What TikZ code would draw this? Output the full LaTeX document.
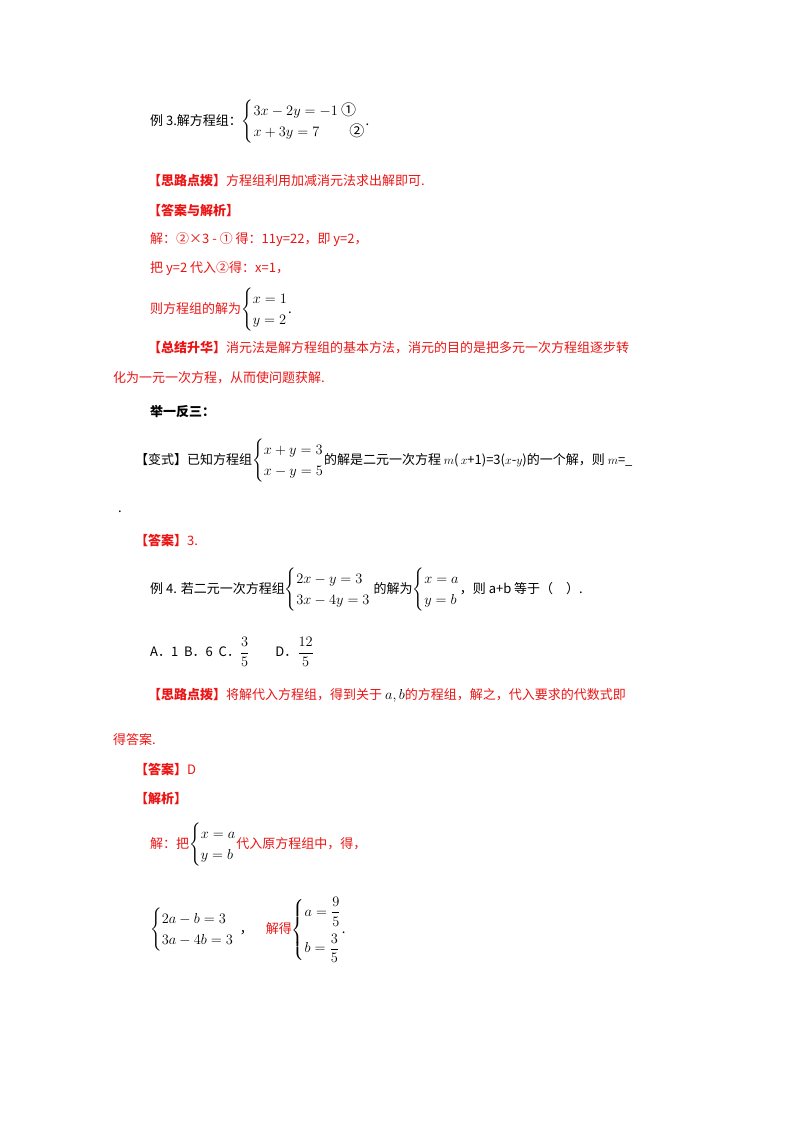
\documentclass[tikz,border=0pt]{standalone}
\usepackage{amsmath}
\usepackage{fontspec}
\setmainfont{Liberation Serif}
\newfontfamily\cjk{Noto Sans CJK SC}
\usetikzlibrary{positioning}
\definecolor{hired}{RGB}{235,20,20}
\tikzset{txt/.style={anchor=west,inner sep=0pt,font=\fontsize{13}{16}\selectfont\cjk}}
\tikzset{hl/.style={txt,text=hired}}
\newcommand{\sys}[2]{{\fontsize{15}{18}\selectfont$\left\{\begin{array}{@{}l@{}}#1\\[3pt]#2\end{array}\right.$}}
\begin{document}
\begin{tikzpicture}[x=1pt,y=1pt]
\useasboundingbox (0,0) rectangle (800,-1132);
% example 3
\node (ex3) [txt] at (150,-122) {例 3.解方程组：\sys{3x-2y=-1\ \text{\cjk ①}}{x+3y=7\qquad\text{\cjk ②}}.};
\node (hint3) [hl] at (148,-181) {\textbf{【思路点拨】}方程组利用加减消元法求出解即可.};
\node (ans3) [hl] at (148,-211) {\textbf{【答案与解析】}};
\node (sol1) [hl] at (150,-240) {解：②×3 - ① 得：11y=22，即 y=2，};
\node (sol2) [hl] at (150,-269) {把 y=2 代入②得：x=1，};
\node (sol3) [hl] at (150,-310) {则方程组的解为\color{black}\sys{x=1}{y=2}.};
\node (sum1) [hl] at (148,-348) {\textbf{【总结升华】}消元法是解方程组的基本方法，消元的目的是把多元一次方程组逐步转};
\node (sum2) [hl] at (113,-378) {化为一元一次方程，从而使问题获解.};
\node (more) [txt] at (150,-412) {\textbf{举一反三：}};
% variant
\node (var) [txt] at (135,-461) {【变式】已知方程组\sys{x+y=3}{x-y=5}的解是二元一次方程 $m$(\,$x$+1)=3($x$-$y$)的一个解，则 $m$=\_};
\node (dot) [txt] at (118,-512) {.};
\node (ansv) [hl] at (135,-540) {\textbf{【答案】}3.};
% example 4
\node (ex4) [txt] at (150,-590) {例 4. 若二元一次方程组\sys{2x-y=3}{3x-4y=3} 的解为\sys{x=a}{y=b}，则 a+b 等于（\quad）.};
\node (opts) [txt] at (150,-652) {A．1\ \ B．6\ \ C．{\fontsize{15}{18}\selectfont$\dfrac{3}{5}$}\qquad D．{\fontsize{15}{18}\selectfont$\dfrac{12}{5}$}};
\node (hint4) [hl] at (148,-695) {\textbf{【思路点拨】}将解代入方程组，得到关于 \color{black}{\fontsize{15}{18}\selectfont$a,b$}\color{hired} 的方程组，解之，代入要求的代数式即};
\node (hint4b) [hl] at (113,-740) {得答案.};
\node (ans4) [hl] at (135,-769) {\textbf{【答案】}D};
\node (ana4) [hl] at (135,-799) {\textbf{【解析】}};
\node (sol4) [hl] at (150,-845) {解：把\color{black}\sys{x=a}{y=b}\color{hired}代入原方程组中，得，};
\node (sol5) [txt] at (150,-930) {\sys{2a-b=3}{3a-4b=3}\ \ ，\quad \color{hired}解得\color{black}{\fontsize{15}{18}\selectfont$\left\{\begin{array}{@{}l@{}}a=\dfrac{9}{5}\\[12pt]b=\dfrac{3}{5}\end{array}\right.$}.};
\end{tikzpicture}
\end{document}
